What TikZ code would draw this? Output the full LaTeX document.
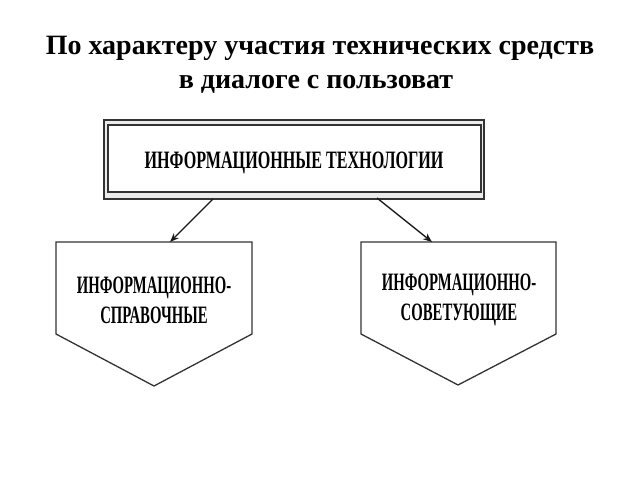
\documentclass[tikz,border=0pt]{standalone}
\usepackage{fontspec}
\setmainfont{Liberation Serif}
\usetikzlibrary{arrows.meta}
\tikzset{
  boxline/.style={draw=black!80, line width=1.3pt},
  conn/.style={draw=black!90, line width=1.4pt, -{Stealth[length=9pt,width=7pt]}},
  boxtext/.style={font=\fontsize{25}{30}\selectfont\bfseries, inner sep=0pt, anchor=base},
  title/.style={font=\fontsize{28}{34}\selectfont\bfseries, inner sep=0pt, anchor=base}
}
\newcommand{\narrowtxt}[2]{\scalebox{#1}[1]{#2}}
\begin{document}
\begin{tikzpicture}[x=1pt,y=-1pt]
\useasboundingbox (0,0) rectangle (640,480);
\fill[white] (0,0) rectangle (640,480);
% title
\node[title] (t1) at (320,54) {По характеру участия технических средств};
\node[title] (t2) at (316,88) {в диалоге с пользоват};
% top box
\draw[boxline, fill=black!8] (104,120) rectangle (484,199);
\draw[boxline, fill=white] (108,125) rectangle (481,192);
\node[boxtext] (top) at (294,168.5) {\narrowtxt{0.645}{ИНФОРМАЦИОННЫЕ ТЕХНОЛОГИИ}};
\coordinate (topL) at (213,199);
\coordinate (topR) at (377,198);
% left pentagon
\draw[boxline, fill=white] (56,242) -- (252,242) -- (252,334) -- (154,386) -- (56,334) -- cycle;
\coordinate (leftIn) at (170,242);
\node[boxtext] (l1) at (154,293.5) {\narrowtxt{0.59}{ИНФОРМАЦИОННО-}};
\node[boxtext] (l2) at (154,323.5) {\narrowtxt{0.59}{СПРАВОЧНЫЕ}};
% right pentagon
\draw[boxline, fill=white] (361,242) -- (556,242) -- (556,334) -- (458,385) -- (361,334) -- cycle;
\coordinate (rightIn) at (432,242);
\node[boxtext] (r1) at (459,290.5) {\narrowtxt{0.59}{ИНФОРМАЦИОННО-}};
\node[boxtext] (r2) at (459,320.5) {\narrowtxt{0.59}{СОВЕТУЮЩИЕ}};
% connectors
\draw[conn] (topL) -- (leftIn);
\draw[conn] (topR) -- (rightIn);
\end{tikzpicture}
\end{document}
